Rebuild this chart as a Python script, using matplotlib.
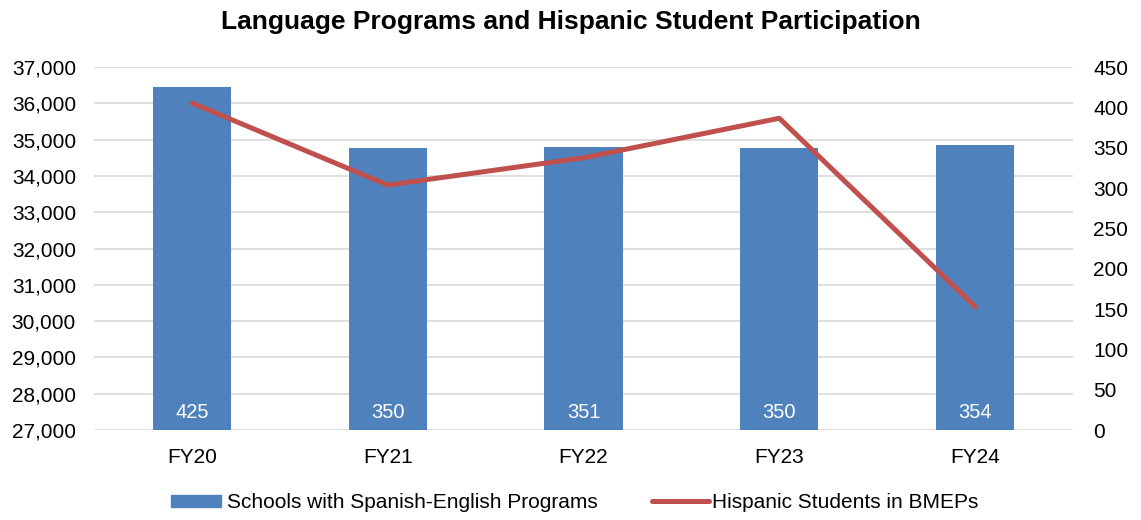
import matplotlib.pyplot as plt
from matplotlib.patches import Rectangle, Patch
from matplotlib.legend_handler import HandlerPatch
from matplotlib.ticker import FuncFormatter

plt.rcParams['font.family'] = ['Liberation Sans', 'DejaVu Sans']

# Datos
years = ['FY20', 'FY21', 'FY22', 'FY23', 'FY24']
schools = [425, 350, 351, 350, 354]
students = [36010, 33750, 34500, 35590, 30400]

bar_color = '#4F81BD'
line_color = '#C0504D'

fig = plt.figure(figsize=(11.41, 5.2), dpi=100)
ax1 = fig.add_axes([0.0824, 0.173, 0.858, 0.698])  # eje izquierdo (linea, grilla)
ax2 = ax1.twinx()  # eje derecho (barras)

x = range(len(years))
bars = ax2.bar(x, schools, width=0.4, color=bar_color, zorder=2)
for xi, v in zip(x, schools):
    ax2.text(xi, 22, str(v), ha='center', va='center', color='white',
             fontsize=14.5, zorder=3)

# la linea se dibuja sobre las barras pero con la escala del eje izquierdo
line, = ax2.plot(x, students, color=line_color, linewidth=3.6,
                 solid_capstyle='round', transform=ax1.transData, zorder=4)

ax1.set_ylim(27000, 37000)
ax1.set_yticks(range(27000, 37001, 1000))
ax1.yaxis.set_major_formatter(FuncFormatter(lambda v, p: f'{int(v):,}'))
ax2.set_ylim(0, 450)
ax2.set_yticks(range(0, 451, 50))
ax1.set_xlim(-0.5, 4.5)
ax1.set_xticks(list(x))
ax1.set_xticklabels(years)

ax1.grid(axis='y', color='#d9d9d9', linewidth=1.2)
ax1.set_axisbelow(True)

for a in (ax1, ax2):
    for s in a.spines.values():
        s.set_visible(False)
    a.tick_params(length=0, labelsize=15, colors='#000000')
ax1.tick_params(axis='y', pad=13)
ax2.tick_params(axis='y', pad=14.5)
ax1.tick_params(axis='x', pad=13)

fig.suptitle('Language Programs and Hispanic Student Participation',
             fontsize=19, fontweight='bold', y=0.98)


def short_patch(legend, orig_handle, xdescent, ydescent, width, height, fontsize):
    w = 36
    h = 8
    return Rectangle((width - w - 2 - xdescent, (height - h) / 2 - ydescent), w, h)


bar_handle = Patch(color=bar_color)
fig.legend([bar_handle, line],
           ['Schools with Spanish-English Programs', 'Hispanic Students in BMEPs'],
           loc='center', bbox_to_anchor=(0.502, 0.033), ncol=2, frameon=False,
           fontsize=15, handlelength=2.75, handletextpad=0.15,
           columnspacing=2.6,
           handler_map={bar_handle: HandlerPatch(patch_func=short_patch)})

fig.savefig('out.png', dpi=100)
